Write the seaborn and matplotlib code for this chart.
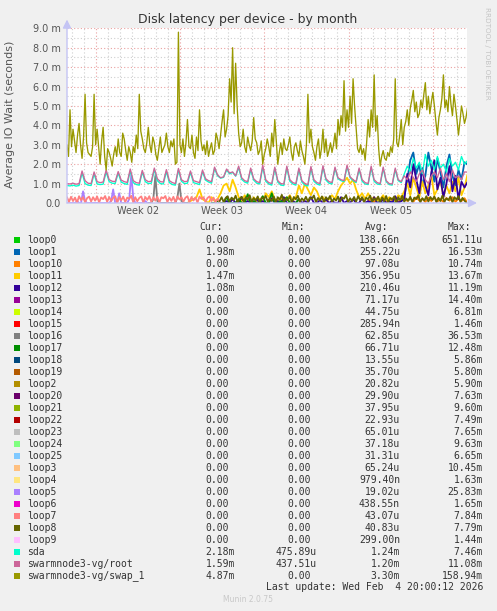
# Munin "Disk latency per device - by month" remake
import numpy as np
import pandas as pd
import matplotlib
matplotlib.use("Agg")
import matplotlib.pyplot as plt
import matplotlib.dates as mdates
from matplotlib.patches import Rectangle
from matplotlib.ticker import MultipleLocator
import seaborn as sns

W, H = 497, 611

# time window of the graph
start = pd.Timestamp('2026-01-02 15:00')
end = pd.Timestamp('2026-02-04 20:00')

# ---- series (values in milliseconds) ----
# 3 hour samples from start
swap_1 = [3.0, 2.4, 4.8, 2.9, 3.8, 3.2, 2.6, 3.5, 4.1, 3.0, 2.3, 3.4, 5.6, 3.1, 2.6, 2.5, 2.4, 2.9,
          5.6, 3.0, 3.8, 2.9, 2.0, 3.2, 3.9, 2.4, 1.7, 2.8, 2.6, 2.3, 1.9, 2.5, 2.9, 2.4, 3.3, 2.6,
          2.4, 3.6, 3.3, 2.7, 2.2, 2.9, 2.6, 2.1, 2.9, 2.6, 3.5, 2.8, 5.6, 3.7, 3.3, 2.8, 2.6, 3.1,
          3.9, 3.0, 2.6, 3.4, 3.1, 2.5, 2.2, 2.8, 3.4, 2.6, 2.8, 3.0, 3.6, 2.9, 2.6, 3.2,
          2.9, 3.3, 2.0, 2.1, 8.8, 3.0, 2.6, 3.3, 2.4, 3.1, 4.3, 2.9, 2.8, 3.5, 2.6, 2.3, 3.4, 2.7,
          4.8, 3.2, 2.7, 3.0, 2.5, 3.2, 2.4, 2.8, 3.1, 2.5, 2.7, 3.6, 3.3, 2.8, 3.5, 4.2, 4.8, 3.4,
          3.8, 4.5, 6.4, 5.2, 8.0, 4.6, 7.2, 5.0, 3.6, 2.9, 3.1, 3.8, 2.9, 2.6, 3.4, 3.0, 2.7, 3.2,
          4.4, 3.3, 3.1, 2.5, 2.7, 3.2, 2.0, 2.5,
          2.8, 3.3, 2.9, 2.4, 3.6, 2.9, 4.3, 3.2, 2.0, 2.6, 3.1, 2.5, 3.3, 2.8, 2.7, 3.0, 3.4, 2.6,
          2.2, 2.9, 3.1, 2.7, 2.4, 3.2, 2.7, 2.4, 2.0, 3.0, 5.6, 3.1, 3.8, 2.9, 2.6, 2.2, 2.9, 3.3,
          2.3, 2.8, 3.8, 2.6, 3.3, 2.4, 2.7, 3.1,
          2.6, 3.0, 3.6, 2.8, 4.3, 3.5, 4.5, 3.9, 6.3, 3.7, 4.8, 3.9, 5.5, 4.1, 6.4, 5.0, 3.9, 2.8,
          2.6, 3.0, 2.5, 2.8, 2.2, 3.1, 4.3, 3.4, 4.8, 3.9, 6.6, 3.7, 4.5, 2.8, 1.9, 2.4, 2.7, 2.3,
          2.2, 2.6, 2.4, 2.9, 2.6, 3.3, 6.4, 3.1, 2.9, 3.5, 4.3, 3.0, 3.9, 4.2, 4.8, 4.0, 4.9, 5.3,
          5.8, 4.7, 5.2, 4.4, 4.6, 5.3, 4.9, 5.6, 6.2, 4.8, 5.5, 4.6, 5.2, 5.7, 5.0, 4.2, 3.5, 4.4,
          4.8, 5.4, 6.6, 4.9, 5.3, 4.7, 6.0, 5.1, 4.5, 5.6, 5.0, 4.3, 3.5, 4.2, 5.0, 4.6, 4.1, 4.4,
          4.9]

# 6 hour samples from start
root = [1.00, 0.98, 1.02, 0.97, 1.00,
        1.65, 1.15, 1.02, 1.00, 1.60, 1.10, 1.05, 1.08, 1.70, 1.20, 1.12, 1.10, 1.62, 1.18, 1.10, 1.06,
        1.75, 1.15, 1.05, 1.02, 1.68, 1.20, 1.10, 1.12, 1.80, 1.25, 1.10, 1.08, 1.72, 1.15, 1.05, 1.00,
        1.78, 1.20, 1.10, 1.12, 1.65, 1.15, 1.10, 1.05, 1.70, 1.25, 1.15, 1.10, 1.85, 1.45, 1.30, 1.35,
        1.75, 1.55, 1.60, 1.40, 1.90, 1.30, 1.15, 1.10, 1.80, 1.25, 1.10, 1.05, 1.95, 1.20, 1.05, 1.00,
        1.85, 1.15, 1.00, 0.98, 1.90, 1.20, 1.05, 1.00, 1.80, 1.15, 1.00, 0.95, 1.88, 1.20, 1.05, 1.00,
        1.92, 1.25, 1.10, 1.05, 1.85, 1.30, 1.20, 1.15, 1.95, 1.35, 1.20, 1.10, 1.80, 1.20, 1.05, 1.00,
        1.90, 1.20, 1.05, 1.00, 1.85, 1.15, 1.00, 0.98, 1.80, 1.20, 1.10,
        1.40, 1.20, 1.60, 1.30, 1.10, 1.50, 1.70, 1.20, 1.00, 1.40, 1.60, 1.30, 1.80, 1.20, 1.50, 1.10,
        1.70, 1.30, 1.40, 1.20, 1.60, 1.59]

sda = [0.90, 0.88, 0.92, 0.87, 0.90,
       1.55, 1.00, 0.92, 0.90, 1.50, 0.98, 0.95, 0.97, 1.60, 1.10, 1.02, 1.00, 1.55, 1.08, 1.00, 0.96,
       1.65, 1.05, 0.95, 0.92, 1.60, 1.10, 1.00, 1.02, 1.72, 1.15, 1.00, 0.98, 1.62, 1.05, 0.95, 0.92,
       1.70, 1.12, 1.00, 1.02, 1.58, 1.05, 1.00, 0.95, 1.62, 1.18, 1.08, 1.02, 1.78, 1.40, 1.28, 1.32,
       1.70, 1.50, 1.58, 1.38, 1.82, 1.22, 1.08, 1.02, 1.72, 1.18, 1.02, 0.98, 1.85, 1.12, 0.98, 0.92,
       1.78, 1.08, 0.92, 0.90, 1.82, 1.12, 0.98, 0.92, 1.72, 1.08, 0.92, 0.88, 1.80, 1.12, 0.98, 0.92,
       1.85, 1.18, 1.02, 0.98, 1.78, 1.25, 1.15, 1.10, 1.88, 1.30, 1.15, 1.05, 1.72, 1.12, 0.98, 0.95,
       1.82, 1.12, 0.98, 0.95, 1.78, 1.10, 0.95, 0.92, 1.72, 1.15, 1.05,
       1.50, 1.90, 1.60, 2.30, 1.80, 2.10, 1.50, 2.50, 1.90, 2.20, 1.70, 2.40, 1.80, 2.00, 1.60, 2.30,
       1.90, 2.10, 1.70, 2.40, 2.00, 2.18]

# 6 hour samples from 2026-01-12 15:00
loop11 = [0.0, 0.1, 0.2, 0.3, 0.7, 0.2, 0.1, 0.0, 0.3, 0.1, 0.2, 0.5,
          0.9, 1.0, 0.6, 1.2, 0.8, 0.3, 0.1, 0.4, 0.2, 0.0, 0.3, 0.1,
          0.2, 0.0, 0.5, 0.3, 0.6, 0.2, 0.1, 0.3, 0.0, 0.2, 0.4, 0.1,
          0.3, 0.9, 0.5, 1.0, 0.7, 0.4, 0.8, 0.6, 0.2, 0.3, 0.1, 0.2,
          0.4, 0.2, 0.6, 0.9, 1.1, 1.3, 1.0, 1.2, 0.7, 0.3, 0.5, 0.2,
          0.5, 0.2, 0.3, 0.1, 0.2, 0.4, 0.1, 0.3, 0.2, 0.1, 0.4, 0.3,
          0.6, 1.0, 0.4, 1.3, 0.8, 0.3, 1.1, 0.5, 0.9, 1.4, 0.4, 0.7, 1.2, 0.3, 0.9, 0.5,
          1.1, 0.6, 1.3, 0.4, 0.8, 1.47]

# 6 hour samples from 2026-01-15 15:00
loop12 = [0.0, 0.1, 0.0, 0.2, 0.0, 0.0, 0.3, 0.0, 0.1, 0.0, 0.0, 0.2,
          0.0, 0.1, 0.0, 0.0, 0.25, 0.0, 0.1, 0.0, 0.3, 0.0, 0.0, 0.1,
          0.0, 0.2, 0.0, 0.1, 0.0, 0.3, 0.0, 0.0, 0.15, 0.0, 0.2, 0.0,
          0.1, 0.0, 0.0, 0.3, 0.0, 0.1, 0.0, 0.2, 0.0, 0.0, 0.25, 0.0,
          0.1, 0.0, 0.3, 0.0, 0.0, 0.2, 0.0, 0.1, 0.0, 0.35, 0.0, 0.1,
          0.2, 1.5, 0.8, 2.0, 1.2, 0.5, 1.8, 0.9, 0.4, 1.6, 2.2, 0.7, 1.3, 0.3, 1.0, 1.9,
          0.6, 1.4, 0.2, 1.1, 0.8, 1.08]

# 6 hour samples from 2026-01-27 15:00
loop1 = [0.0, 0.1, 0.0, 0.2, 0.0, 0.0, 0.15, 0.0, 0.1, 0.0, 0.2, 0.1,
         0.3, 1.2, 2.2, 2.6, 1.5, 2.0, 0.9, 1.4, 2.6, 1.8, 1.1, 2.3, 1.6, 0.8, 1.9, 2.5,
         1.4, 0.9, 1.7, 1.2, 2.1, 1.98]
loop10 = [0.1, 0.2, 0.05, 0.25, 0.1, 0.3, 0.05, 0.2, 0.15, 0.28, 0.05, 0.2, 0.3, 0.1, 0.25, 0.05,
          0.3, 0.12, 0.22, 0.05, 0.28, 0.1, 0.3, 0.08, 0.2, 0.05, 0.26, 0.12, 0.3, 0.06, 0.22, 0.1,
          0.25, 0.0]

# 6 hour samples from 2026-01-14 15:00
loop17 = [0.0, 0.0, 0.1, 0.0, 0.0, 0.3, 0.0, 0.0, 0.0, 0.2, 0.0, 0.0, 0.45, 0.0, 0.1, 0.0,
          0.0, 0.35, 0.0, 0.0, 0.5, 0.0, 0.0, 0.1, 0.0, 0.3, 0.0, 0.0, 0.0, 0.2]

# 4 hour samples from start
loop7 = [0.30, 0.05, 0.32, 0.10, 0.28, 0.02, 0.35, 0.15, 0.30, 0.04, 0.25,
         0.33, 0.08, 0.30, 0.12, 0.34, 0.03, 0.29, 0.20, 0.36, 0.06, 0.31,
         0.10, 0.27, 0.35, 0.02, 0.30, 0.14, 0.33, 0.05, 0.28, 0.22, 0.37,
         0.04, 0.30, 0.09, 0.26, 0.34, 0.03, 0.31, 0.16, 0.35, 0.06, 0.29,
         0.12, 0.33, 0.02, 0.30, 0.24, 0.36, 0.05, 0.28, 0.11, 0.32, 0.03,
         0.34, 0.18, 0.30, 0.07, 0.27, 0.35, 0.04, 0.31, 0.13, 0.29, 0.02,
         0.33, 0.21, 0.30, 0.06, 0.26, 0.34, 0.10, 0.28, 0.03, 0.22, 0.05]
loop5 = [0, 0, 0, 0, 0, 0.1, 0, 0, 0.6, 0.1, 0, 0, 0, 0, 0, 0, 0, 0, 0, 0, 0, 0, 0.1, 0.7, 0,
         0, 0.5, 0, 0, 0, 0, 0.2, 1.45, 0.3, 0, 0, 0, 0, 0, 0.1, 0]

# 4 hour samples from 2026-01-09 07:00
loop16 = [0, 0, 0, 0.2, 1.40, 0.1, 0, 0, 0, 0, 0, 0, 0, 0, 0, 0.3, 1.0, 0.1, 0, 0, 0]

# 4 hour samples from 2026-01-15 07:00
loop8 = [0.10, 0.30, 0.05, 0.25, 0.35, 0.08, 0.28, 0.15, 0.38, 0.04, 0.22, 0.32,
         0.06, 0.30, 0.18, 0.40, 0.05, 0.26, 0.12, 0.34, 0.03, 0.29, 0.20, 0.36,
         0.07, 0.25, 0.10, 0.33, 0.04, 0.30, 0.16, 0.42, 0.06, 0.27, 0.13, 0.35,
         0.02, 0.31, 0.19, 0.37, 0.05, 0.24, 0.11, 0.32, 0.08, 0.29, 0.21, 0.39,
         0.04, 0.26, 0.14, 0.34, 0.03, 0.30, 0.17, 0.36, 0.06, 0.23, 0.12, 0.33,
         0.05, 0.28, 0.22, 0.41, 0.04, 0.25, 0.10, 0.31, 0.07, 0.35, 0.15, 0.30,
         0.03, 0.27, 0.19, 0.38, 0.06, 0.24, 0.13, 0.33, 0.05, 0.29, 0.09, 0.36,
         0.04, 0.26, 0.18, 0.34, 0.02, 0.30, 0.14, 0.37, 0.06, 0.23, 0.11, 0.32,
         0.05, 0.28, 0.20, 0.40, 0.03, 0.25, 0.12, 0.35, 0.07, 0.31, 0.16, 0.33,
         0.04, 0.27, 0.10, 0.38, 0.06, 0.24, 0.15, 0.34, 0.03, 0.30, 0.18, 0.36,
         0.05, 0.26, 0.12, 0.00]

# ---- legend table ----
names = ['loop0', 'loop1', 'loop10', 'loop11', 'loop12', 'loop13', 'loop14', 'loop15', 'loop16',
         'loop17', 'loop18', 'loop19', 'loop2', 'loop20', 'loop21', 'loop22', 'loop23', 'loop24',
         'loop25', 'loop3', 'loop4', 'loop5', 'loop6', 'loop7', 'loop8', 'loop9', 'sda',
         'swarmnode3-vg/root', 'swarmnode3-vg/swap_1']
colors = ['#00CC00', '#0066B3', '#FF8000', '#FFCC00', '#330099', '#990099', '#CCFF00', '#FF0000',
          '#808080', '#008F00', '#00487D', '#B35A00', '#B38F00', '#6B006B', '#8FB300', '#B30000',
          '#BEBEBE', '#80FF80', '#80C9FF', '#FFC080', '#FFE680', '#AA80FF', '#EE00CC', '#FF8080',
          '#666600', '#FFBFFF', '#00FFCC', '#CC6699', '#999900']
cur = ['0.00', '1.98m', '0.00', '1.47m', '1.08m', '0.00', '0.00', '0.00', '0.00', '0.00', '0.00',
       '0.00', '0.00', '0.00', '0.00', '0.00', '0.00', '0.00', '0.00', '0.00', '0.00', '0.00',
       '0.00', '0.00', '0.00', '0.00', '2.18m', '1.59m', '4.87m']
minv = ['0.00'] * 26 + ['475.89u', '437.51u', '0.00']
avg = ['138.66n', '255.22u', '97.08u', '356.95u', '210.46u', '71.17u', '44.75u', '285.94n',
       '62.85u', '66.71u', '13.55u', '35.70u', '20.82u', '29.90u', '37.95u', '22.93u', '65.01u',
       '37.18u', '31.31u', '65.24u', '979.40n', '19.02u', '438.55n', '43.07u', '40.83u',
       '299.00n', '1.24m', '1.20m', '3.30m']
maxv = ['651.11u', '16.53m', '10.74m', '13.67m', '11.19m', '14.40m', '6.81m', '1.46m', '36.53m',
        '12.48m', '5.86m', '5.80m', '5.90m', '7.63m', '9.60m', '7.49m', '7.65m', '9.63m', '6.65m',
        '10.45m', '1.63m', '25.83m', '1.65m', '7.84m', '7.79m', '1.44m', '7.46m', '11.08m',
        '158.94m']
week_labels = ['Week 02', 'Week 03', 'Week 04', 'Week 05']
palette = dict(zip(names, colors))


def frame(device, values, first, step_h):
    t = pd.Timestamp(first) + pd.to_timedelta(np.arange(len(values)) * step_h, unit='h')
    return pd.DataFrame({'time': t, 'wait': values, 'device': device})


bottom = pd.concat([
    frame('loop1', loop1, '2026-01-27 15:00', 6),
    frame('loop10', loop10, '2026-01-27 15:00', 6),
    frame('loop11', loop11, '2026-01-12 15:00', 6),
    frame('loop12', loop12, '2026-01-15 15:00', 6),
    frame('loop16', loop16, '2026-01-09 07:00', 4),
    frame('loop17', loop17, '2026-01-14 15:00', 6),
    frame('loop5', loop5, start, 4),
    frame('loop7', loop7, start, 4),
    frame('loop8', loop8, '2026-01-15 07:00', 4),
], ignore_index=True)
top = pd.concat([
    frame('sda', sda, start, 6),
    frame('swarmnode3-vg/root', root, start, 6),
    frame('swarmnode3-vg/swap_1', swap_1, start, 3),
], ignore_index=True)

sns.set_style('white')
plt.rcParams['font.family'] = ['DejaVu Sans']

fig = plt.figure(figsize=(W / 100, H / 100), dpi=100, facecolor='#F0F0F0')
ax = fig.add_axes([67 / W, 1 - 203 / H, 400 / W, (203 - 28.3) / H])
ax.set_facecolor('white')

# legend order is draw order, so the swap line ends up on top
for part, lw in [(bottom, 1.3), (top, 0.95)]:
    order = [n for n in names if n in set(part['device'])]
    sns.lineplot(data=part, x='time', y='wait', hue='device', hue_order=order, palette=palette,
                 estimator=None, errorbar=None, linewidth=lw, legend=False, ax=ax)

ax.set_xlim(start, end)
ax.set_ylim(0, 9.0)
ax.xaxis.set_major_locator(mdates.WeekdayLocator(byweekday=mdates.MO))
ax.xaxis.set_minor_locator(mdates.DayLocator())
ax.yaxis.set_minor_locator(MultipleLocator(0.5))
ax.grid(which='minor', color='#cfcfcf', linestyle=(0, (1, 2)), linewidth=0.8)
ax.grid(which='major', color='#eaa0a0', linestyle=(0, (1, 2)), linewidth=0.8)
ax.set_axisbelow(True)
for s in ax.spines.values():
    s.set_visible(False)
ax.tick_params(which='both', length=0)
ax.tick_params(axis='y', labelsize=7, labelcolor='#555555', pad=4.3)
ax.set_xticklabels([])
ax.set_yticks(np.arange(0, 10))
ax.set_yticklabels(['0.0'] + ['%.1f m' % v for v in range(1, 10)])
ax.set_xlabel('')
ax.set_ylabel('')

# week labels at the middle of each week
mondays = pd.date_range('2026-01-05', periods=4, freq='7D')
for m, lab in zip(mondays, week_labels):
    ax.text(m + pd.Timedelta(hours=84), -8.5 / 174.7, lab, transform=ax.get_xaxis_transform(),
            ha='center', va='center', fontsize=7, color='#555555')

# axis arrows
arrow = dict(arrowstyle='-|>,head_length=0.5,head_width=0.25', color='#c4c4f4', lw=1,
             shrinkA=0, shrinkB=0)
ax.annotate('', xy=(1.025, 0), xytext=(0, 0), xycoords='axes fraction', arrowprops=arrow,
            annotation_clip=False)
ax.annotate('', xy=(0, 1.05), xytext=(0, 0), xycoords='axes fraction', arrowprops=arrow,
            annotation_clip=False)


def fx(x):
    return x / W


def fy(y):
    return 1 - y / H


fig.text(fx(248), fy(19), 'Disk latency per device - by month', ha='center', va='center',
         fontsize=9, color='#333333')
fig.text(fx(10), fy(114), 'Average IO Wait (seconds)', ha='center', va='center', rotation=90,
         fontsize=8, color='#555555')
fig.text(fx(487), fy(53), 'RRDTOOL / TOBI OETIKER', ha='center', va='center', rotation=270,
         fontsize=5.2, color='#c4c4c4')

mono = 'DejaVu Sans Mono'
fs = 7.05
cw = 5.9
cols = [235, 317, 400, 483]
for col, head in zip(cols, ['Cur:', 'Min:', 'Avg:', 'Max:']):
    fig.text(fx(col - 2 * cw), fy(227), head, ha='right', va='center', family=mono,
             fontsize=fs, color='#333333')

for i, name in enumerate(names):
    y = 239.7 + 12 * i
    fig.add_artist(Rectangle((fx(14), fy(y + 3)), 6 / W, 6 / H, transform=fig.transFigure,
                             facecolor=palette[name], edgecolor='none'))
    fig.text(fx(27), fy(y), name, ha='left', va='center', family=mono, fontsize=fs,
             color='#333333')
    for col, val in zip(cols, [cur[i], minv[i], avg[i], maxv[i]]):
        x = col if val[-1].isalpha() else col - cw
        fig.text(fx(x), fy(y), val, ha='right', va='center', family=mono, fontsize=fs,
                 color='#333333')

fig.text(fx(483), fy(587), 'Last update: Wed Feb  4 20:00:12 2026', ha='right', va='center',
         family=mono, fontsize=fs, color='#333333')
fig.text(fx(248), fy(600), 'Munin 2.0.75', ha='center', va='center', fontsize=5.5,
         color='#c8c8c8')

fig.savefig('out.png', dpi=100, facecolor=fig.get_facecolor())
